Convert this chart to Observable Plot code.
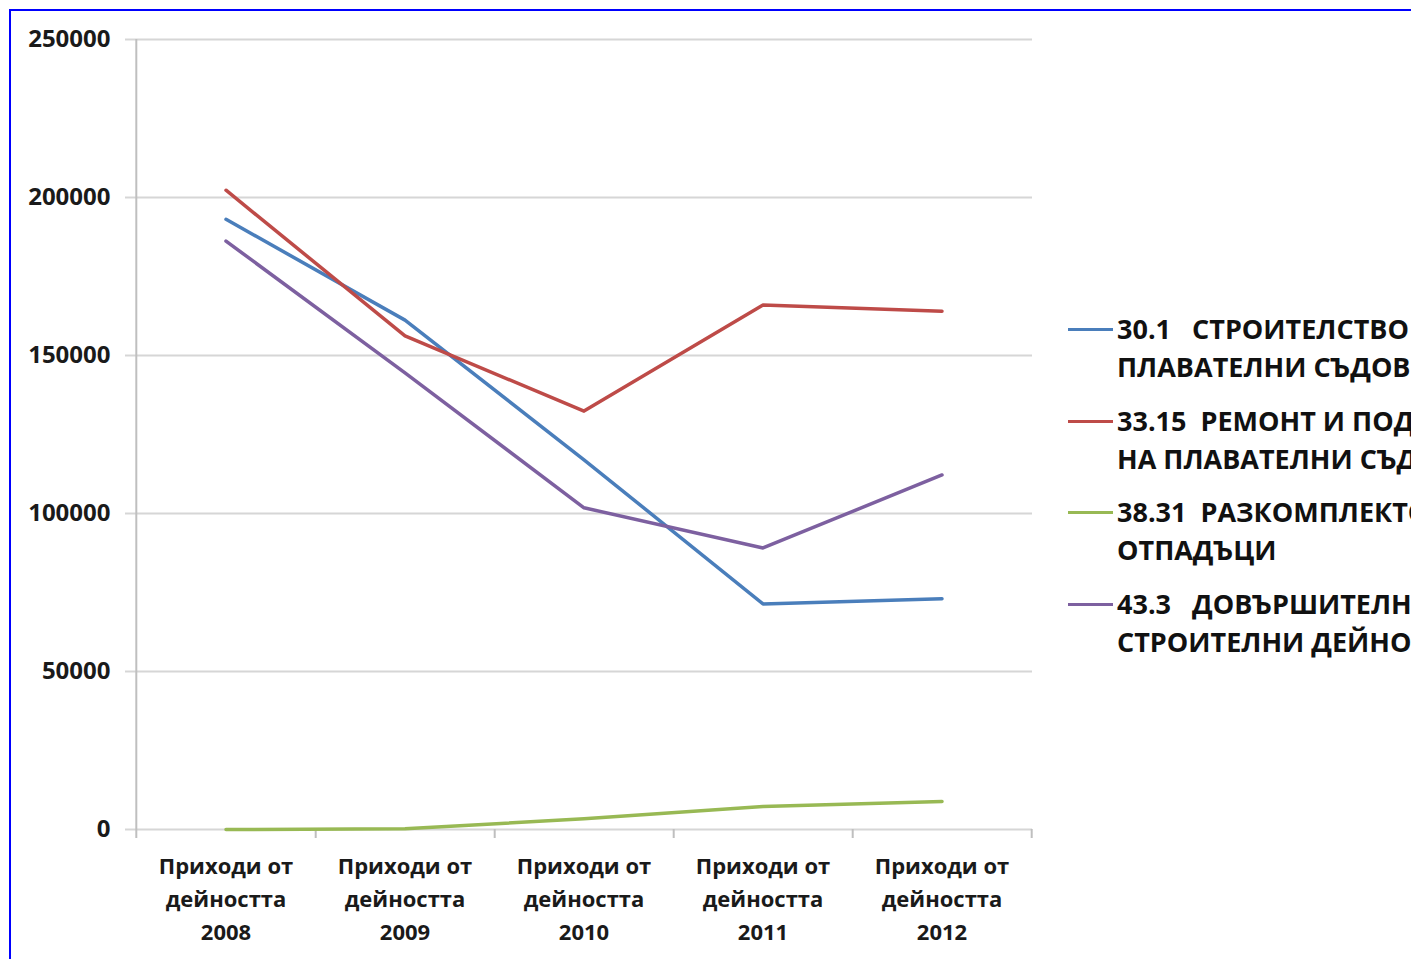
<!DOCTYPE html>
<html><head><meta charset="utf-8">
<script src="https://cdn.jsdelivr.net/npm/d3@7"></script>
<script src="https://cdn.jsdelivr.net/npm/@observablehq/plot@0.6"></script>
<style>
html,body{margin:0;padding:0;overflow:hidden;background:#fff;width:1411px;height:959px;}
#border{position:absolute;left:9px;top:9px;width:2000px;height:2000px;border-left:2px solid #0000ff;border-top:2px solid #0000ff;box-sizing:border-box;}
#chart{position:absolute;left:0;top:0;}
#legend{position:absolute;left:1068px;top:310px;font-family:"Open Sans",sans-serif;font-weight:700;font-size:27px;color:#111;white-space:pre;}
.entry{position:relative;padding-left:49px;line-height:38px;margin-bottom:15.7px;}
.sw{position:absolute;left:0;top:18px;width:45px;height:3px;}
</style></head><body>
<div id="border"></div><div id="chart"></div><div id="legend"></div>
<script>
const categories = [
  "Приходи от\nдейността\n2008",
  "Приходи от\nдейността\n2009",
  "Приходи от\nдейността\n2010",
  "Приходи от\nдейността\n2011",
  "Приходи от\nдейността\n2012"
];
const seriesNames = [
  "30.1 СТРОИТЕЛСТВО НА КОРАБИ И ПЛАВАТЕЛНИ СЪДОВЕ",
  "33.15 РЕМОНТ И ПОДДРЪЖКА НА КОРАБИ И НА ПЛАВАТЕЛНИ СЪДОВЕ",
  "38.31 РАЗКОМПЛЕКТОВАНЕ НА КОРАБИ И ДРУГИ ОТПАДЪЦИ",
  "43.3 ДОВЪРШИТЕЛНИ СТРОИТЕЛНИ ДЕЙНОСТИ"
];
const legendLines = [
  ["30.1   СТРОИТЕЛСТВО НА КОРАБИ И", "ПЛАВАТЕЛНИ СЪДОВЕ"],
  ["33.15  РЕМОНТ И ПОДДРЪЖКА НА КОРАБИ И", "НА ПЛАВАТЕЛНИ СЪДОВЕ"],
  ["38.31  РАЗКОМПЛЕКТОВАНЕ НА КОРАБИ И ДРУГИ", "ОТПАДЪЦИ"],
  ["43.3   ДОВЪРШИТЕЛНИ", "СТРОИТЕЛНИ ДЕЙНОСТИ"]
];
const colors = ["#4a7ebb", "#be4b48", "#98b954", "#7d60a0"];
const s301 = [193100, 161200, 117000, 71400, 73000];
const s3315 = [202300, 156200, 132400, 166000, 164000];
const s3831 = [0, 200, 3400, 7300, 8900];
const s433 = [186200, 144500, 101800, 89100, 112200];
const yTicks = [0, 50000, 100000, 150000, 200000, 250000];

const allSeries = [s301, s3315, s3831, s433];
const rows = [];
allSeries.forEach((vals, si) => vals.forEach((v, i) => rows.push({cat: categories[i], value: v, series: seriesNames[si]})));

const W = 1040, H = 959, mL = 135, mR = 8, mT = 39, mB = 130;
const step = (W - mL - mR) / categories.length;
const axisColor = "#bfbfbf", gridColor = "#d6d6d6";

const chart = Plot.plot({
  width: W, height: H,
  marginLeft: mL, marginRight: mR, marginTop: mT, marginBottom: mB,
  style: {fontFamily: "'Open Sans', sans-serif", fontWeight: "bold", color: "#1a1a1a", background: "transparent", overflow: "visible"},
  x: {type: "band", domain: categories, padding: 0, label: null},
  y: {domain: [0, 250000], label: null},
  color: {domain: seriesNames, range: colors},
  marks: [
    Plot.gridY(yTicks, {stroke: gridColor, strokeOpacity: 1, strokeWidth: 2}),
    Plot.axisY(yTicks, {tickSize: 10, tickPadding: 15, stroke: gridColor, strokeOpacity: 1, strokeWidth: 2, tickFormat: d => String(d), fontSize: 24}),
    Plot.ruleX([categories[0]], {dx: -step / 2, stroke: axisColor, strokeWidth: 2}),
    Plot.axisX(categories, {tickSize: 9, tickFormat: () => "", dx: step / 2, stroke: axisColor, strokeOpacity: 1, strokeWidth: 2}),
    Plot.axisX([categories[0]], {tickSize: 9, tickFormat: () => "", dx: -step / 2, stroke: axisColor, strokeOpacity: 1, strokeWidth: 2}),
    Plot.axisX(categories, {tickSize: 0, tickPadding: 21, fontSize: 22, lineHeight: 1.5}),
    Plot.line(rows, {x: "cat", y: "value", z: "series", stroke: "series", strokeWidth: 3.5})
  ]
});
document.getElementById("chart").appendChild(chart);

const legend = document.getElementById("legend");
legendLines.forEach((lines, i) => {
  const e = document.createElement("div");
  e.className = "entry";
  const sw = document.createElement("div");
  sw.className = "sw";
  sw.style.background = colors[i];
  e.appendChild(sw);
  e.appendChild(document.createTextNode(lines.join("\n")));
  legend.appendChild(e);
});
</script>
</body></html>
